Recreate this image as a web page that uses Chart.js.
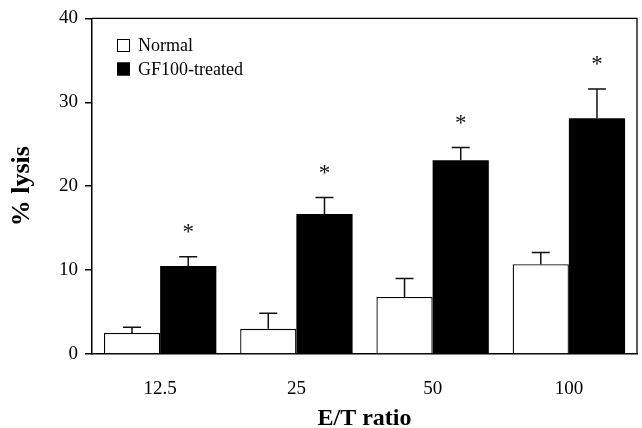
<!DOCTYPE html>
<html>
<head>
<meta charset="utf-8">
<script src="https://cdn.jsdelivr.net/npm/chart.js"></script>
<style>
  body { margin: 0; background: #fff; }
  #wrap { width: 642px; height: 428px; }
</style>
</head>
<body>
<div id="wrap"><canvas id="myChart" width="642" height="428"></canvas></div>
<script>
// datos
const categorias = ["12.5", "25", "50", "100"];
const nombres = ["Normal", "GF100-treated"];
const normal = [2.5, 3.0, 6.8, 10.7];
const normalErr = [0.7, 1.85, 2.2, 1.4];
const tratado = [10.5, 16.7, 23.1, 28.1];
const tratadoErr = [1.1, 1.95, 1.5, 3.5];
const significativo = [true, true, true, true];
const ticksY = [0, 10, 20, 30, 40];

const fuente = "'Liberation Serif', 'Times New Roman', serif";

// barras de error (solo hacia arriba) y asteriscos
const errorBars = {
    id: "errorBars",
    afterDatasetsDraw(chart) {
        const ctx = chart.ctx;
        const y = chart.scales.y;
        const errores = [normalErr, tratadoErr];
        ctx.save();
        ctx.strokeStyle = "#111";
        ctx.lineWidth = 1.5;
        chart.data.datasets.forEach((ds, i) => {
            const meta = chart.getDatasetMeta(i);
            meta.data.forEach((bar, j) => {
                const arriba = y.getPixelForValue(ds.data[j] + errores[i][j]);
                ctx.beginPath();
                ctx.moveTo(bar.x, bar.y);
                ctx.lineTo(bar.x, arriba);
                ctx.moveTo(bar.x - 9, arriba);
                ctx.lineTo(bar.x + 9, arriba);
                ctx.stroke();
                if (i === 1 && significativo[j]) {
                    ctx.fillStyle = "#111";
                    ctx.font = "23px " + fuente;
                    ctx.textAlign = "center";
                    ctx.textBaseline = "middle";
                    ctx.fillText("*", bar.x, arriba - 24);
                }
            });
        });
        ctx.restore();
    }
};

// marco del área y leyenda
const marcoLeyenda = {
    id: "marcoLeyenda",
    afterDraw(chart) {
        const ctx = chart.ctx;
        const a = chart.chartArea;
        ctx.save();
        ctx.strokeStyle = "#000";
        ctx.lineWidth = 1.3;
        ctx.beginPath();
        ctx.moveTo(a.left, a.top);
        ctx.lineTo(a.right, a.top);
        ctx.lineTo(a.right, a.bottom);
        ctx.stroke();

        ctx.font = "18px " + fuente;
        ctx.textBaseline = "middle";
        ctx.textAlign = "left";
        chart.data.datasets.forEach((ds, i) => {
            const cy = 45.5 + i * 23.5;
            ctx.fillStyle = ds.backgroundColor;
            ctx.fillRect(117, cy - 6.5, 13, 13);
            ctx.lineWidth = 1;
            ctx.strokeStyle = "#000";
            ctx.strokeRect(117.5, cy - 6, 12, 12);
            ctx.fillStyle = "#000";
            ctx.fillText(ds.label, 138, cy + 1);
        });
        ctx.restore();
    }
};

const ctx = document.getElementById("myChart").getContext("2d");
const myChart = new Chart(ctx, {
    type: "bar",
    data: {
        labels: categorias,
        datasets: [{
            label: nombres[0],
            data: normal,
            backgroundColor: "#ffffff",
            borderColor: "#000000",
            borderWidth: 1.3,
        }, {
            label: nombres[1],
            data: tratado,
            backgroundColor: "#000000",
            borderColor: "#000000",
            borderWidth: 0,
        }],
    },
    options: {
        responsive: false,
        animation: false,
        devicePixelRatio: 1,
        layout: { padding: { top: 18, right: 5, left: 0, bottom: 0 } },
        datasets: { bar: { categoryPercentage: 0.825, barPercentage: 1.0 } },
        plugins: {
            legend: { display: false },
            tooltip: { enabled: false },
        },
        scales: {
            x: {
                afterFit: s => { s.height = 74; },
                grid: { display: false },
                border: { display: true, color: "#000", width: 1.5 },
                ticks: { color: "#000", padding: 16, font: { family: fuente, size: 19 } },
                title: {
                    display: true,
                    text: "E/T ratio",
                    color: "#000",
                    padding: { top: 0, bottom: -5 },
                    font: { family: fuente, size: 24, weight: "bold" },
                },
            },
            y: {
                min: 0,
                max: 40,
                afterFit: s => { s.width = 92; },
                afterBuildTicks: s => { s.ticks = ticksY.map(v => ({ value: v })); },
                grid: { drawOnChartArea: false, drawTicks: true, tickLength: 7, color: "#000", lineWidth: 1.5 },
                border: { display: true, color: "#000", width: 1.5 },
                ticks: { color: "#000", padding: 7, font: { family: fuente, size: 19 } },
                title: {
                    display: true,
                    text: "% lysis",
                    color: "#000",
                    padding: { top: 7, bottom: 0 },
                    font: { family: fuente, size: 26, weight: "bold" },
                },
            },
        },
    },
    plugins: [errorBars, marcoLeyenda],
});
</script>
</body>
</html>
